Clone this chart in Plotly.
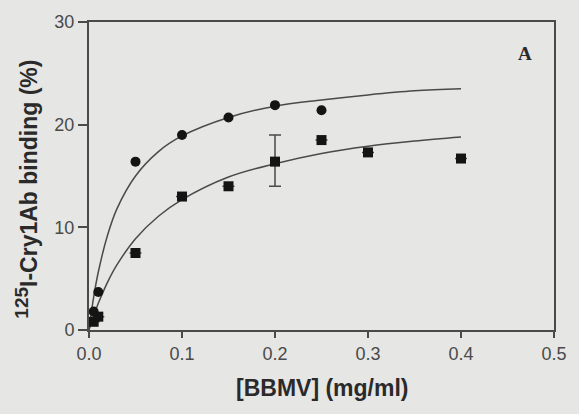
import plotly.graph_objects as go

# Measured data
x_circ = [0.005, 0.01, 0.05, 0.1, 0.15, 0.2, 0.25]
y_circ = [1.8, 3.7, 16.4, 19.0, 20.7, 21.9, 21.4]

x_sq = [0.005, 0.01, 0.05, 0.1, 0.15, 0.2, 0.25, 0.3, 0.4]
y_sq = [0.8, 1.3, 7.5, 13.0, 14.0, 16.4, 18.5, 17.3, 16.7]
err_plus_sq = [0, 0, 0, 0, 0, 2.6, 0, 0, 0]
err_minus_sq = [0, 0, 0, 0, 0, 2.4, 0, 0, 0]

# Fitted curves, values
x_fit = [0, 0.005, 0.01, 0.02, 0.03, 0.05, 0.075, 0.1, 0.15, 0.2, 0.25, 0.3, 0.35, 0.4]
y_fit_circ = [0, 3.2, 5.65, 9.25, 11.8, 15.0, 17.4, 18.9, 20.7, 21.8, 22.4, 22.9, 23.3, 23.5]
y_fit_sq = [0, 1.38, 2.6, 4.67, 6.34, 8.89, 11.1, 12.7, 14.9, 16.2, 17.2, 17.9, 18.4, 18.8]

x_ticks = [0.0, 0.1, 0.2, 0.3, 0.4, 0.5]
x_tick_text = ["0.0", "0.1", "0.2", "0.3", "0.4", "0.5"]
y_ticks = [0, 10, 20, 30]

BG = "#e6e6e4"
LINE = "#4a4a4a"
MARK = "#141414"

fig = go.Figure()
fig.add_trace(go.Scatter(x=x_fit, y=y_fit_circ, mode="lines", line=dict(color=LINE, width=1.5, shape="spline"), showlegend=False))
fig.add_trace(go.Scatter(x=x_fit, y=y_fit_sq, mode="lines", line=dict(color=LINE, width=1.5, shape="spline"), showlegend=False))
fig.add_trace(go.Scatter(x=x_circ, y=y_circ, mode="markers", marker=dict(symbol="circle", size=10, color=MARK), showlegend=False))
fig.add_trace(go.Scatter(x=x_sq, y=y_sq, mode="markers", marker=dict(symbol="square", size=10, color=MARK),
                         error_y=dict(type="data", symmetric=False, array=err_plus_sq, arrayminus=err_minus_sq,
                                      color=LINE, thickness=1.5, width=6),
                         showlegend=False))

axis_font = dict(family="Liberation Sans, Arial, sans-serif", size=18, color="#4a4a4a")
fig.update_xaxes(range=[0, 0.5], tickvals=x_ticks, ticktext=x_tick_text, ticks="outside", ticklen=6,
                 tickwidth=1.5, tickcolor=LINE, showline=True, linecolor=LINE, linewidth=2, mirror=True,
                 showgrid=False, zeroline=False, tickfont=axis_font)
fig.update_yaxes(range=[0, 30], tickvals=y_ticks, ticks="outside", ticklen=9, tickwidth=1.5, tickcolor=LINE,
                 showline=True, linecolor=LINE, linewidth=2, mirror=True, showgrid=False, zeroline=False,
                 tickfont=axis_font)

title_font = dict(family="Liberation Sans, Arial, sans-serif", size=23, color="#2a2a2a")
fig.update_layout(
    width=579, height=414,
    margin=dict(l=89, r=20, t=21, b=84),
    paper_bgcolor=BG, plot_bgcolor=BG,
    annotations=[
        dict(text="<b>[BBMV] (mg/ml)</b>", xref="paper", yref="paper", x=0.5, y=0, yshift=-58,
             xanchor="center", yanchor="middle", showarrow=False, font=title_font),
        dict(text="<b><sup><span style='font-size:19px'>125</span></sup>I-Cry1Ab binding (%)</b>",
             xref="paper", yref="paper",
             x=(26 - 89) / 470, y=0.5, yshift=-13, xanchor="center", yanchor="middle",
             textangle=-90, showarrow=False, font=title_font),
        dict(text="<b>A</b>", xref="paper", yref="paper", x=(530 - 89) / 470, y=1, yshift=-31,
             xanchor="center", yanchor="middle", showarrow=False,
             font=dict(family="Liberation Serif, Times New Roman, serif", size=19, color="#2a2a2a")),
    ],
)

fig.write_html("out.html")
